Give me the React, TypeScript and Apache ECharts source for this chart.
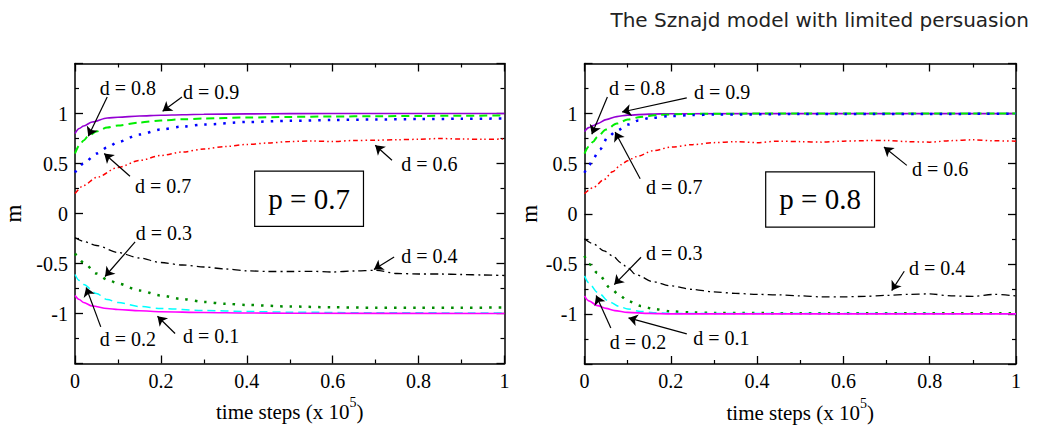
import React, { useEffect, useRef } from "react";
import * as echarts from "echarts";

// ---------- data ----------
const X_TICKS = [0, 0.2, 0.4, 0.6, 0.8, 1];
const Y_TICKS = [-1, -0.5, 0, 0.5, 1];

// p = 0.7
const P7_D09 = [[0,0.8],[0.01,0.85],[0.02,0.875],[0.04,0.915],[0.075,0.955],[0.1,0.963],[0.15,0.975],[0.2,0.983],[0.25,0.988],[0.3,0.992],[0.4,0.996],[0.5,0.999],[0.7,1],[1,1]];
const P7_D08 = [[0,0.6],[0.01,0.68],[0.02,0.73],[0.03,0.77],[0.05,0.82],[0.075,0.86],[0.1,0.88],[0.15,0.91],[0.2,0.93],[0.25,0.942],[0.3,0.95],[0.4,0.96],[0.5,0.966],[0.6,0.97],[0.7,0.973],[0.8,0.976],[0.9,0.978],[1,0.98]];
const P7_D07 = [[0,0.41],[0.02,0.5],[0.05,0.6],[0.075,0.66],[0.1,0.715],[0.15,0.79],[0.2,0.84],[0.25,0.87],[0.3,0.89],[0.4,0.915],[0.5,0.927],[0.6,0.935],[0.7,0.94],[0.8,0.944],[0.9,0.947],[1,0.95]];
const P7_D06 = [[0,0.2],[0.02,0.28],[0.05,0.36],[0.1,0.46],[0.15,0.53],[0.2,0.58],[0.25,0.615],[0.3,0.645],[0.35,0.67],[0.4,0.69],[0.45,0.705],[0.5,0.72],[0.55,0.725],[0.6,0.72],[0.65,0.73],[0.7,0.733],[0.75,0.738],[0.8,0.742],[0.85,0.75],[0.9,0.745],[0.95,0.742],[1,0.745]];
const P7_D04 = [[0,-0.24],[0.02,-0.28],[0.05,-0.32],[0.1,-0.39],[0.15,-0.445],[0.2,-0.49],[0.25,-0.515],[0.3,-0.535],[0.35,-0.555],[0.4,-0.573],[0.45,-0.58],[0.5,-0.58],[0.55,-0.578],[0.6,-0.585],[0.65,-0.575],[0.7,-0.568],[0.75,-0.6],[0.8,-0.605],[0.85,-0.605],[0.9,-0.61],[0.95,-0.615],[1,-0.62]];
const P7_D03 = [[0,-0.4],[0.02,-0.49],[0.05,-0.6],[0.075,-0.66],[0.1,-0.7],[0.15,-0.77],[0.2,-0.82],[0.25,-0.855],[0.3,-0.885],[0.35,-0.903],[0.4,-0.915],[0.5,-0.93],[0.6,-0.938],[0.7,-0.943],[0.8,-0.942],[0.9,-0.942],[1,-0.94]];
const P7_D02 = [[0,-0.61],[0.01,-0.67],[0.02,-0.71],[0.05,-0.8],[0.075,-0.86],[0.1,-0.89],[0.15,-0.93],[0.2,-0.95],[0.3,-0.97],[0.4,-0.98],[0.5,-0.987],[0.7,-0.993],[1,-0.995]];
const P7_D01 = [[0,-0.82],[0.01,-0.86],[0.02,-0.89],[0.04,-0.925],[0.075,-0.95],[0.1,-0.96],[0.15,-0.973],[0.2,-0.982],[0.3,-0.99],[0.4,-0.995],[0.5,-0.998],[1,-1]];

// p = 0.8
const P8_D09 = [[0,0.82],[0.01,0.86],[0.02,0.88],[0.03,0.9],[0.05,0.94],[0.075,0.97],[0.1,0.985],[0.15,0.995],[0.2,0.999],[1,1]];
const P8_D08 = [[0,0.6],[0.01,0.67],[0.02,0.72],[0.03,0.77],[0.05,0.84],[0.075,0.9],[0.1,0.94],[0.13,0.967],[0.175,0.988],[0.25,0.997],[0.4,1],[1,1]];
const P8_D07 = [[0,0.41],[0.01,0.48],[0.02,0.55],[0.035,0.64],[0.055,0.77],[0.075,0.83],[0.1,0.89],[0.125,0.93],[0.15,0.955],[0.2,0.975],[0.25,0.985],[0.3,0.99],[0.5,0.995],[1,0.998]];
const P8_D06 = [[0,0.2],[0.02,0.26],[0.045,0.34],[0.065,0.42],[0.085,0.49],[0.1,0.53],[0.12,0.57],[0.16,0.63],[0.2,0.665],[0.25,0.69],[0.3,0.71],[0.35,0.72],[0.4,0.71],[0.45,0.725],[0.5,0.72],[0.55,0.715],[0.6,0.725],[0.65,0.73],[0.7,0.732],[0.75,0.72],[0.8,0.715],[0.85,0.73],[0.9,0.738],[0.95,0.728],[1,0.725]];
const P8_D04 = [[0,-0.25],[0.02,-0.3],[0.045,-0.37],[0.065,-0.42],[0.085,-0.49],[0.1,-0.54],[0.12,-0.61],[0.16,-0.68],[0.2,-0.72],[0.25,-0.755],[0.3,-0.78],[0.35,-0.795],[0.4,-0.805],[0.45,-0.81],[0.5,-0.82],[0.55,-0.83],[0.6,-0.83],[0.65,-0.825],[0.7,-0.815],[0.75,-0.805],[0.8,-0.8],[0.85,-0.82],[0.9,-0.825],[0.95,-0.805],[1,-0.82]];
const P8_D03 = [[0,-0.42],[0.01,-0.5],[0.03,-0.59],[0.06,-0.74],[0.08,-0.81],[0.1,-0.87],[0.13,-0.92],[0.16,-0.95],[0.2,-0.975],[0.25,-0.985],[0.3,-0.99],[0.5,-0.993],[1,-0.993]];
const P8_D02 = [[0,-0.62],[0.01,-0.69],[0.03,-0.785],[0.06,-0.885],[0.08,-0.925],[0.1,-0.95],[0.13,-0.975],[0.16,-0.988],[0.2,-0.995],[1,-0.998]];
const P8_D01 = [[0,-0.82],[0.01,-0.87],[0.03,-0.917],[0.05,-0.945],[0.07,-0.967],[0.1,-0.985],[0.15,-0.995],[0.2,-1],[1,-1]];

// annotations: [xFrom, yFrom, xTo, yTo] and [x, y, text]
const P7_ARROWS = [[0.075,1.166,0.031,0.773],[0.249,1.166,0.204,1.023],[0.128,0.373,0.068,0.6],[0.738,0.533,0.699,0.683],[0.14,-0.284,0.07,-0.63],[0.743,-0.434,0.696,-0.56],[0.06,-1.134,0.026,-0.74],[0.233,-1.2,0.192,-1.027]];
const P7_LABELS = [[0.123,1.253,"d = 0.8"],[0.317,1.213,"d = 0.9"],[0.205,0.273,"d = 0.7"],[0.825,0.493,"d = 0.6"],[0.207,-0.197,"d = 0.3"],[0.825,-0.427,"d = 0.4"],[0.123,-1.257,"d = 0.2"],[0.317,-1.227,"d = 0.1"]];
const P8_ARROWS = [[0.053,1.166,0.017,0.793],[0.237,1.156,0.087,1.016],[0.129,0.35,0.071,0.816],[0.747,0.483,0.694,0.666],[0.131,-0.434,0.069,-0.707],[0.061,-1.14,0.027,-0.817],[0.237,-1.2,0.102,-1.04],[0.741,-0.574,0.712,-0.767]];
const P8_LABELS = [[0.122,1.253,"d = 0.8"],[0.319,1.213,"d = 0.9"],[0.208,0.263,"d = 0.7"],[0.824,0.443,"d = 0.6"],[0.208,-0.387,"d = 0.3"],[0.124,-1.277,"d = 0.2"],[0.317,-1.237,"d = 0.1"],[0.817,-0.537,"d = 0.4"]];
const P_BOXES = [[0.545, 0.148, "p = 0.7"], [0.546, 0.143, "p = 0.8"]];

const TITLE = "The Sznajd model with limited persuasion";

// ---------- styling ----------
const SERIF = "Liberation Serif";
const STYLES = [
  { color: "#9400d3", width: 1.6, type: "solid" },           // d=0.9
  { color: "#00ee00", width: 2, type: [8, 5] },             // d=0.8
  { color: "#0000ff", width: 2.5, type: [2.5, 7] },         // d=0.7
  { color: "#ff0000", width: 1.5, type: [5, 3, 1.5, 3, 1.5, 3] }, // d=0.6
  { color: "#000000", width: 1.3, type: [8, 4, 2, 4] },     // d=0.4
  { color: "#008b00", width: 2.5, type: [2.5, 7] },         // d=0.3
  { color: "#00ffff", width: 1.5, type: [8, 5] },           // d=0.2
  { color: "#ff00ff", width: 1.6, type: "solid" },          // d=0.1
];

const PANELS = [
  { series: [P7_D09, P7_D08, P7_D07, P7_D06, P7_D04, P7_D03, P7_D02, P7_D01], arrows: P7_ARROWS, labels: P7_LABELS, box: P_BOXES[0], grid: { left: 75, top: 63.5, width: 429.5, height: 300 }, nameGap: 50 },
  { series: [P8_D09, P8_D08, P8_D07, P8_D06, P8_D04, P8_D03, P8_D02, P8_D01], arrows: P8_ARROWS, labels: P8_LABELS, box: P_BOXES[1], grid: { left: 584.5, top: 63.5, width: 431.5, height: 300.5 }, nameGap: 44 },
];

const fmt = (v: number) => String(Number(v.toFixed(2)));

function buildOption() {
  const grids: any[] = [];
  const xAxes: any[] = [];
  const yAxes: any[] = [];
  const series: any[] = [];
  const axisLine = { show: true, onZero: false, lineStyle: { color: "#000", width: 1.5 } };
  const tick = { show: true, inside: true, length: 8, lineStyle: { color: "#000", width: 1.3 } };
  const minor = { show: true, splitNumber: 2, length: 4, lineStyle: { color: "#000", width: 1.2 } };
  PANELS.forEach((p, g) => {
    grids.push({ ...p.grid, containLabel: false });
    const xBase = { type: "value", gridIndex: g, min: 0, max: 1, interval: 0.2, axisLine, axisTick: tick, minorTick: minor, splitLine: { show: false }, minorSplitLine: { show: false } };
    xAxes.push({
      ...xBase, position: "bottom",
      axisLabel: { show: true, margin: 7, color: "#000", fontFamily: SERIF, fontSize: 20, formatter: (v: number) => (X_TICKS.some((t) => Math.abs(t - v) < 1e-6) ? fmt(v) : "") },
      name: "{b|time steps (x 10}{s|5}{b|)}", nameLocation: "middle", nameGap: 32,
      nameTextStyle: { rich: { b: { fontFamily: SERIF, fontSize: 21, color: "#000", lineHeight: 27, verticalAlign: "bottom" }, s: { fontFamily: SERIF, fontSize: 14, color: "#000", lineHeight: 12, verticalAlign: "top" } } },
    });
    xAxes.push({ ...xBase, position: "top", axisLabel: { show: false } });
    const yBase = { type: "value", gridIndex: g, min: -1.5, max: 1.5, interval: 0.5, axisLine, axisTick: tick, minorTick: minor, splitLine: { show: false }, minorSplitLine: { show: false } };
    yAxes.push({
      ...yBase, position: "left",
      axisLabel: { show: true, margin: 7, color: "#000", fontFamily: SERIF, fontSize: 20, formatter: (v: number) => (Y_TICKS.some((t) => Math.abs(t - v) < 1e-6) ? fmt(v) : "") },
      name: "m", nameLocation: "middle", nameGap: p.nameGap,
      nameTextStyle: { fontFamily: SERIF, fontSize: 23, color: "#000" },
    });
    yAxes.push({ ...yBase, position: "right", axisLabel: { show: false } });

    p.series.forEach((d, i) => {
      const st = STYLES[i];
      series.push({
        type: "line", xAxisIndex: 2 * g, yAxisIndex: 2 * g, data: d, showSymbol: false, symbol: "none",
        smooth: 0.3, smoothMonotone: "x", silent: true,
        lineStyle: { color: st.color, width: st.width, type: st.type, cap: "butt" },
      });
    });

    series.push({
      type: "line", xAxisIndex: 2 * g, yAxisIndex: 2 * g, data: [], symbol: "none", silent: true,
      markLine: {
        silent: true, animation: false, symbol: ["none", "arrow"], symbolSize: 9, precision: 4,
        label: { show: false },
        lineStyle: { color: "#000", width: 1.2, type: "solid" },
        emphasis: { disabled: true },
        data: p.arrows.map((a) => [{ coord: [a[0], a[1]] }, { coord: [a[2], a[3]] }]),
      },
      markPoint: {
        silent: true, animation: false, symbol: "circle", symbolSize: 1, itemStyle: { color: "rgba(0,0,0,0)" },
        data: [
          ...p.labels.map((l) => ({
            coord: [l[0], l[1]], value: l[2],
            label: { show: true, position: "inside", formatter: String(l[2]), color: "#000", fontFamily: SERIF, fontSize: 20 },
          })),
          {
            coord: [p.box[0], p.box[1]], value: p.box[2],
            label: { show: true, position: "inside", formatter: String(p.box[2]), color: "#000", fontFamily: SERIF, fontSize: 29, lineHeight: 32, padding: [11, 13, 11, 13], borderColor: "#000", borderWidth: 1.2, backgroundColor: "#fff" },
          },
        ],
      },
    });
  });

  return {
    animation: false,
    backgroundColor: "#fff",
    title: { text: TITLE, right: 3, top: 5, textStyle: { fontFamily: "DejaVu Sans", fontSize: 20, fontWeight: "normal", color: "#222" } },
    grid: grids,
    xAxis: xAxes,
    yAxis: yAxes,
    series,
  };
}

export default function App() {
  const ref = useRef<HTMLDivElement>(null);
  useEffect(() => {
    document.body.style.margin = "0";
    const chart = echarts.init(ref.current!, undefined, { renderer: "svg" });
    chart.setOption(buildOption() as any);
    return () => chart.dispose();
  }, []);
  return <div ref={ref} style={{ width: 1037, height: 428 }} />;
}
